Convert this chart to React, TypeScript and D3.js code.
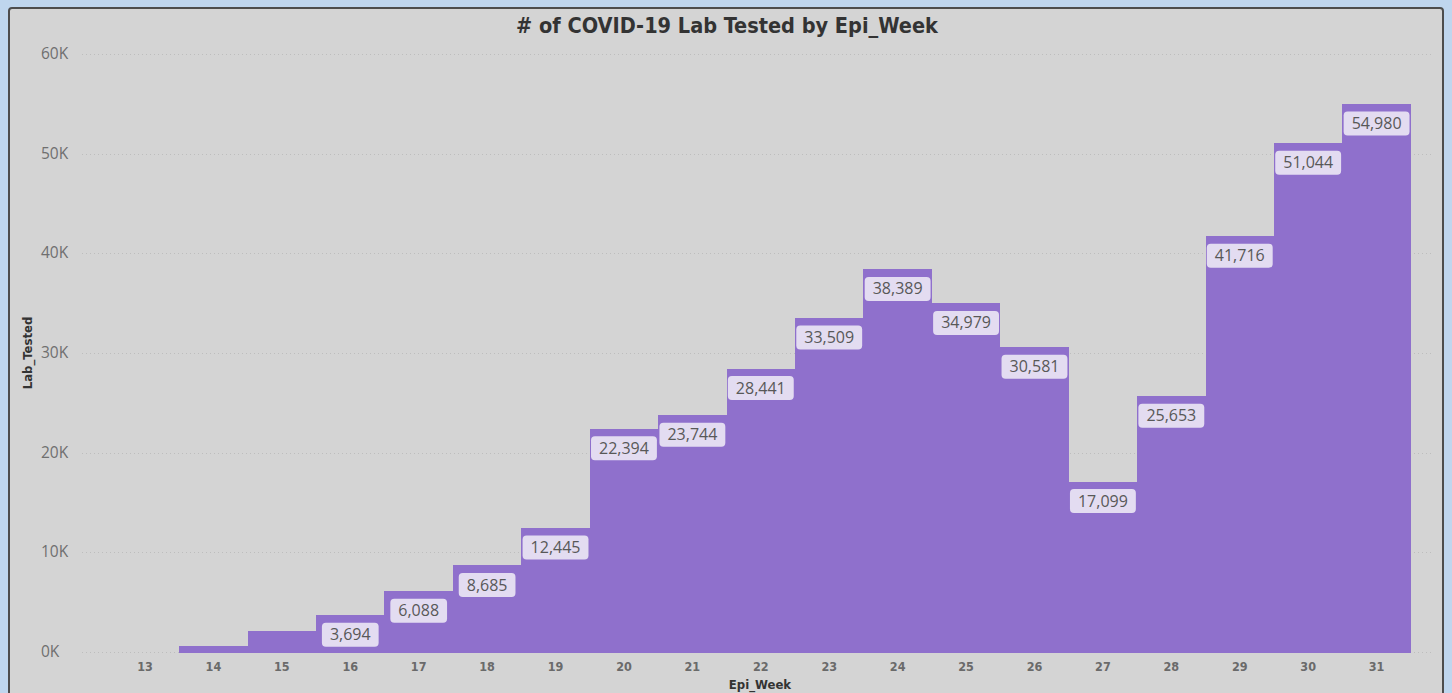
import { useEffect, useRef } from 'react';
import * as d3 from 'd3';

const weeks = [13, 14, 15, 16, 17, 18, 19, 20, 21, 22, 23, 24, 25, 26, 27, 28, 29, 30, 31];
const labTested = [0, 560, 2080, 3694, 6088, 8685, 12445, 22394, 23744, 28441, 33509, 38389, 34979, 30581, 17099, 25653, 41716, 51044, 54980];
const yTicks = [0, 10000, 20000, 30000, 40000, 50000, 60000];

const W = 1452;
const H = 693;

const App = () => {
  const svgRef = useRef<SVGSVGElement>(null);

  useEffect(() => {
    if (!svgRef.current) return;
    const svg = d3.select(svgRef.current);
    svg.selectAll('*').remove();

    // page + panel
    svg.append('rect').attr('width', W).attr('height', H).attr('fill', '#bfd6ee');
    svg.append('rect')
      .attr('x', 9).attr('y', 8).attr('width', 1434).attr('height', 700)
      .attr('rx', 3)
      .attr('fill', '#d4d4d4')
      .attr('stroke', '#4d4d4d')
      .attr('stroke-width', 2);

    const x = d3.scaleBand<number>().domain(weeks).range([110.8, 1410.8]).padding(0);
    const y = d3.scaleLinear().domain([0, 60000]).range([652, 54]);

    // gridlines
    svg.append('g')
      .selectAll('line')
      .data(yTicks)
      .enter()
      .append('line')
      .attr('x1', 82).attr('x2', 1432)
      .attr('y1', d => Math.round(y(d)) + 0.5).attr('y2', d => Math.round(y(d)) + 0.5)
      .attr('stroke', '#bdbdbd')
      .attr('stroke-width', 1)
      .attr('stroke-dasharray', '1,3');

    // y tick labels
    svg.append('g')
      .selectAll('text')
      .data(yTicks)
      .enter()
      .append('text')
      .attr('x', 41)
      .attr('y', d => y(d) + 5)
      .attr('font-family', '"Open Sans", sans-serif')
      .attr('font-size', 15.5)
      .attr('fill', '#6f6f6f')
      .text(d => `${d / 1000}K`);

    const data = weeks.map((w, i) => ({ week: w, value: labTested[i] }));

    // bars
    svg.append('g')
      .attr('shape-rendering', 'crispEdges')
      .selectAll('rect')
      .data(data.filter(d => d.value > 0))
      .enter()
      .append('rect')
      .attr('x', d => Math.round(x(d.week)!))
      .attr('y', d => Math.round(y(d.value)))
      .attr('width', d => Math.round(x(d.week)! + x.bandwidth()) - Math.round(x(d.week)!))
      .attr('height', d => Math.round(y(0)) - Math.round(y(d.value)) + 1)
      .attr('fill', '#8f70cc');

    // data labels
    const labels = svg.append('g')
      .selectAll('g')
      .data(data.filter(d => d.value >= 3000))
      .enter()
      .append('g')
      .attr('transform', d => `translate(${x(d.week)! + x.bandwidth() / 2},${y(d.value) + 19.5})`);

    labels.append('rect').attr('class', 'bg');
    labels.append('text')
      .attr('text-anchor', 'middle')
      .attr('dy', '0.35em')
      .attr('font-family', '"Open Sans", sans-serif')
      .attr('font-size', 16)
      .attr('fill', '#585858')
      .text(d => d3.format(',')(d.value));

    labels.each(function () {
      const g = d3.select(this);
      const t = g.select('text').node() as SVGTextElement;
      const tw = t.getComputedTextLength();
      const bw = Math.min(tw + 16, x.bandwidth() - 2);
      g.select('rect.bg')
        .attr('x', -bw / 2).attr('y', -12)
        .attr('width', bw).attr('height', 24)
        .attr('rx', 4)
        .attr('fill', '#e3dcf1');
    });

    // x tick labels
    svg.append('g')
      .selectAll('text')
      .data(weeks)
      .enter()
      .append('text')
      .attr('x', d => x(d)! + x.bandwidth() / 2)
      .attr('y', 671)
      .attr('text-anchor', 'middle')
      .attr('font-family', '"DejaVu Sans Condensed", sans-serif')
      .attr('font-weight', 'bold')
      .attr('font-size', 12.5)
      .attr('fill', '#6a6a6a')
      .text(d => d);

    // axis titles
    svg.append('text')
      .attr('x', 760).attr('y', 689)
      .attr('text-anchor', 'middle')
      .attr('font-family', '"DejaVu Sans Condensed", sans-serif')
      .attr('font-weight', 'bold')
      .attr('font-size', 13)
      .attr('fill', '#333')
      .text('Epi_Week');

    svg.append('text')
      .attr('transform', 'translate(32,353) rotate(-90)')
      .attr('text-anchor', 'middle')
      .attr('font-family', '"DejaVu Sans Condensed", sans-serif')
      .attr('font-weight', 'bold')
      .attr('font-size', 13)
      .attr('fill', '#333')
      .text('Lab_Tested');

    // title
    svg.append('text')
      .attr('x', 727).attr('y', 33)
      .attr('text-anchor', 'middle')
      .attr('font-family', '"DejaVu Sans Condensed", sans-serif')
      .attr('font-weight', 'bold')
      .attr('font-size', 21.5)
      .attr('fill', '#333')
      .text('# of COVID-19 Lab Tested by Epi_Week');
  }, []);

  return (
    <div style={{ position: 'absolute', left: 0, top: 0 }}>
      <svg ref={svgRef} width={W} height={H} style={{ display: 'block' }} />
    </div>
  );
};

export default App;
